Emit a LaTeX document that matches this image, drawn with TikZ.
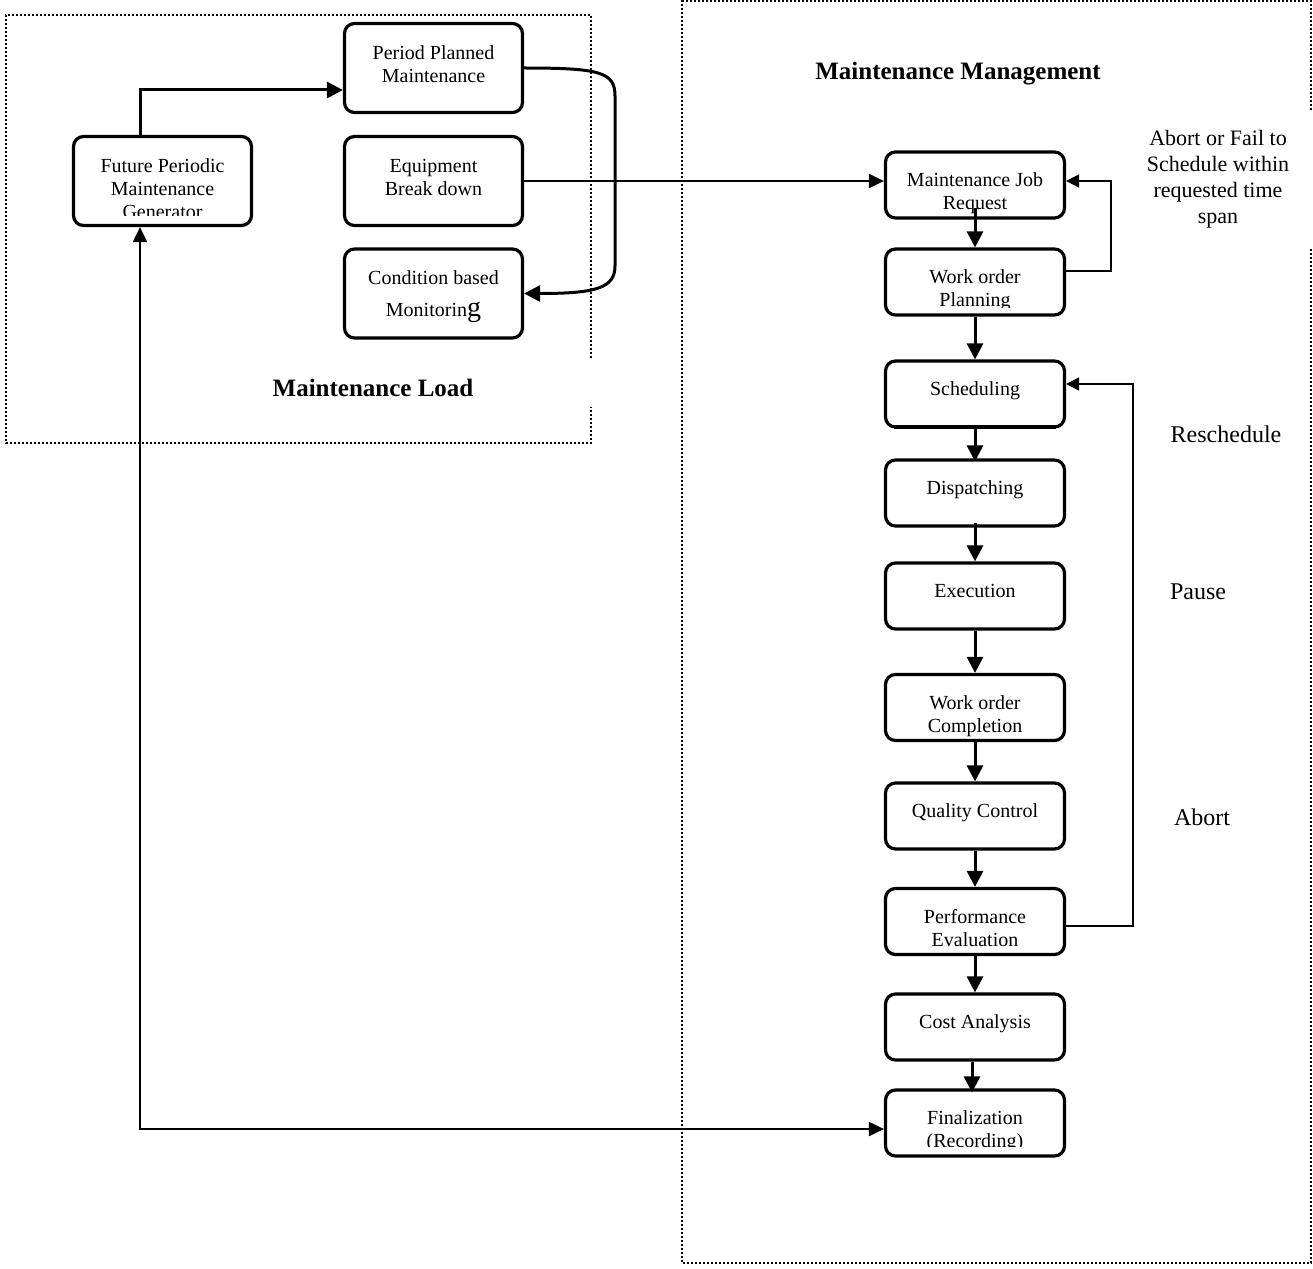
\documentclass[tikz,border=0pt]{standalone}
\usepackage{fontspec}
\setmainfont{Liberation Serif}
\usetikzlibrary{arrows.meta}
\begin{document}
\begin{tikzpicture}[x=1pt,y=-1pt,
  flowbox/.style={draw, line width=3.2pt, rounded corners=10pt, minimum width=179pt, minimum height=66pt, inner sep=0pt},
  loadbox/.style={flowbox, minimum width=178pt, minimum height=89pt},
  boxtext/.style={anchor=north, inner sep=0pt, align=center, font=\fontsize{20}{23}\selectfont},
  heading/.style={inner sep=0pt, font=\fontsize{25}{29}\selectfont\bfseries},
  sidenote/.style={inner sep=0pt, align=center, font=\fontsize{24}{28}\selectfont},
  region/.style={line width=2pt, dash pattern=on 2pt off 2pt},
  flow/.style={line width=3pt, -{Triangle[length=16pt,width=16pt]}},
  feedback/.style={line width=1.5pt, -{Triangle[length=13pt,width=13pt]}},
  link/.style={line width=2.2pt, -{Triangle[length=15pt,width=14pt]}},
]
\useasboundingbox (0,0) rectangle (1313,1268);

% dotted regions
\draw[region] (591,358) -- (591,15) -- (6,15) -- (6,443) -- (591,443) -- (591,407);
\draw[region] (1311,110) -- (1311,1.5) -- (682,1.5) -- (682,1263) -- (1311,1263) -- (1311,248);

% headings
\node[heading] (mm-title) at (958,74) {Maintenance Management};
\node[heading] (ml-title) at (373,388) {Maintenance Load};

% maintenance load boxes
\node[loadbox] (fut) at (162.5,181) {};
\node[loadbox] (ppm) at (433.5,68) {};
\node[loadbox] (eqb) at (433.5,181) {};
\node[loadbox] (cbm) at (433.5,293.5) {};

\begin{scope}
  \clip ([xshift=2pt,yshift=-2pt]fut.north west) rectangle ([xshift=-2pt,yshift=12pt]fut.south east);
  \node[boxtext] (fut-t) at ([yshift=-21pt]fut.north) {\strut Future Periodic\\Maintenance\\Generator};
\end{scope}
\node[boxtext] (ppm-t) at ([yshift=-21pt]ppm.north) {\strut Period Planned\\Maintenance};
\node[boxtext] (eqb-t) at ([yshift=-21pt]eqb.north) {\strut Equipment\\Break down};
\node[boxtext] (cbm-t) at ([yshift=-21pt]cbm.north) {\strut Condition based\\[9pt]Monitorin{\fontsize{28}{30}\selectfont g}};

% maintenance management column
\node[flowbox] (mjr) at (975,185) {};
\node[flowbox] (wop) at (975,282) {};
\node[flowbox] (sch) at (975,394) {};
\node[flowbox] (dis) at (975,493) {};
\node[flowbox] (exe) at (975,596) {};
\node[flowbox] (woc) at (975,707.5) {};
\node[flowbox] (qc) at (975,816) {};
\node[flowbox] (pe) at (975,921.5) {};
\node[flowbox] (ca) at (975,1027) {};
\node[flowbox] (fin) at (975,1123) {};
% heavier lower edge of the scheduling box
\draw[line width=4.6pt] ([xshift=10pt,yshift=1.6pt]sch.south west) -- ([xshift=-10pt,yshift=1.6pt]sch.south east);

\node[boxtext] (mjr-t) at ([yshift=-20pt]mjr.north) {\strut Maintenance Job\\Request};
\begin{scope}
  \clip ([xshift=2pt,yshift=-2pt]wop.north west) rectangle ([xshift=-2pt,yshift=9pt]wop.south east);
  \node[boxtext] (wop-t) at ([yshift=-20pt]wop.north) {\strut Work order\\Planning};
\end{scope}
\node[boxtext] (sch-t) at ([yshift=-20pt]sch.north) {\strut Scheduling};
\node[boxtext] (dis-t) at ([yshift=-20pt]dis.north) {\strut Dispatching};
\node[boxtext] (exe-t) at ([yshift=-20pt]exe.north) {\strut Execution};
\node[boxtext] (woc-t) at ([yshift=-20pt]woc.north) {\strut Work order\\Completion};
\node[boxtext] (qc-t) at ([yshift=-20pt]qc.north) {\strut Quality Control};
\node[boxtext] (pe-t) at ([yshift=-20pt]pe.north) {\strut Performance\\Evaluation};
\node[boxtext] (ca-t) at ([yshift=-20pt]ca.north) {\strut Cost Analysis};
\begin{scope}
  \clip ([xshift=2pt,yshift=-2pt]fin.north west) rectangle ([xshift=-2pt,yshift=11pt]fin.south east);
  \node[boxtext] (fin-t) at ([yshift=-20pt]fin.north) {\strut Finalization\\(Recording)};
\end{scope}

% side notes
\node[sidenote, font=\fontsize{22}{26}\selectfont] (fail-note) at (1218,179) {Abort or Fail to\\Schedule within\\requested time\\span};
\node[sidenote] (resched-note) at (1226,434) {Reschedule};
\node[sidenote] (pause-note) at (1198,592) {Pause};
\node[sidenote] (abort-note) at (1202,817) {Abort};

% load side connectors
\coordinate (gen-up) at (140,90);
\draw[flow] (fut.north -| gen-up) -- (gen-up) -- (ppm.west |- gen-up);
\draw[flow] (ppm.east) .. controls (600,68) and (615,72) .. (615,96) -- (615,266) .. controls (615,288) and (596,293.5) .. (cbm.east);
\draw[link] (eqb.east) -- (mjr.west |- eqb.east);

% main flow
\draw[flow] ([yshift=12pt]mjr.south) -- (wop.north);
\draw[flow] (wop.south) -- (sch.north);
\draw[flow] (sch.south) -- ([yshift=-3pt]dis.north);
\draw[flow] ([yshift=5pt]dis.south) -- (exe.north);
\draw[flow] (exe.south) -- (woc.north);
\draw[flow] (woc.south) -- (qc.north);
\draw[flow] (qc.south) -- (pe.north);
\draw[flow] (pe.south) -- (ca.north);
\draw[flow] ([xshift=-3pt]ca.south) -- ([xshift=-3pt,yshift=-4pt]fin.north);

% feedback loops
\coordinate (fb-low) at (1111,271);
\coordinate (fb-high) at (1111,181);
\draw[feedback] (wop.east |- fb-low) -- (fb-low) -- (fb-high) -- (mjr.east |- fb-high);
\coordinate (rs-low) at (1133,926);
\coordinate (rs-high) at (1133,384);
\draw[feedback] (pe.east |- rs-low) -- (rs-low) -- (rs-high) -- (sch.east |- rs-high);

% record return to the generator
\coordinate (ret) at (140,1129);
\draw[line width=2pt, {Triangle[length=15pt,width=14pt]}-{Triangle[length=15pt,width=14pt]}] (fut.south -| ret) -- (ret) -- (fin.west |- ret);
\end{tikzpicture}
\end{document}
